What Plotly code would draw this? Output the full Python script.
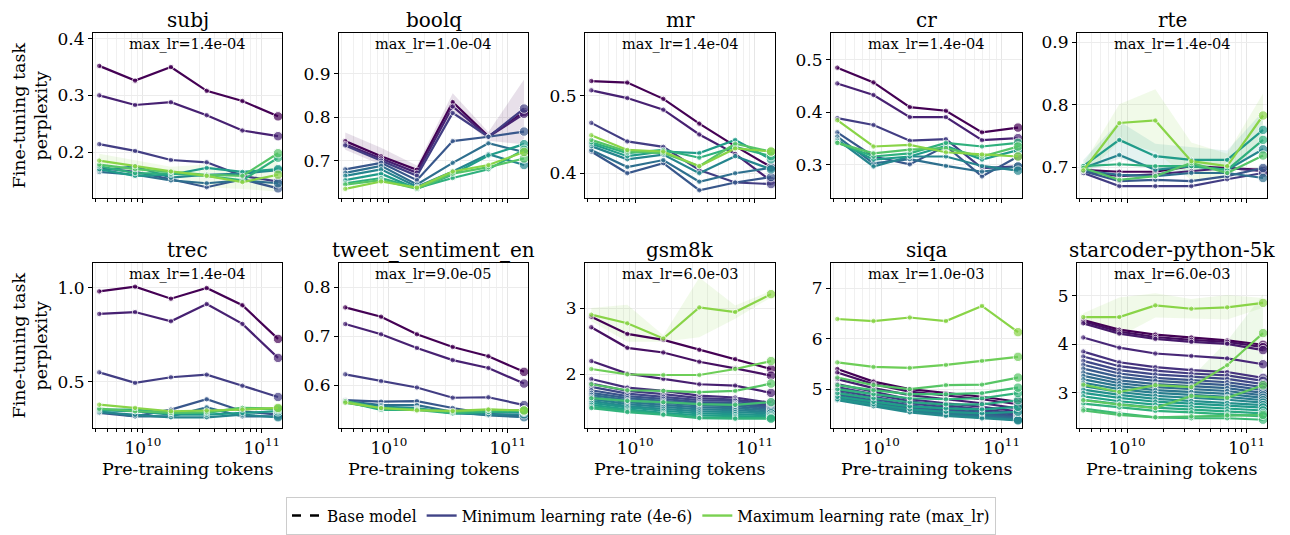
import plotly.graph_objects as go
from plotly.colors import sample_colorscale

# pre-training token counts (x positions)
tokens = [4.29e9, 8.59e9, 1.72e10, 3.44e10, 6.87e10, 1.37e11]

tasks = ["subj", "boolq", "mr", "cr", "rte",
         "trec", "tweet_sentiment_en", "gsm8k", "siqa", "starcoder-python-5k"]
max_lrs = ["1.4e-04", "1.0e-04", "1.4e-04", "1.4e-04", "1.4e-04",
           "1.4e-04", "9.0e-05", "6.0e-03", "1.0e-03", "6.0e-03"]

# one row per learning rate, lowest lr first
subj = [
    [0.352, 0.326, 0.350, 0.308, 0.290, 0.263],
    [0.300, 0.283, 0.288, 0.265, 0.238, 0.228],
    [0.214, 0.202, 0.186, 0.182, 0.158, 0.148],
    [0.172, 0.165, 0.152, 0.138, 0.152, 0.136],
    [0.165, 0.160, 0.150, 0.145, 0.150, 0.145],
    [0.168, 0.175, 0.155, 0.160, 0.162, 0.168],
    [0.170, 0.158, 0.160, 0.172, 0.165, 0.170],
    [0.175, 0.163, 0.162, 0.158, 0.150, 0.190],
    [0.178, 0.170, 0.165, 0.160, 0.158, 0.198],
    [0.185, 0.175, 0.166, 0.158, 0.147, 0.160],
]
boolq = [
    [0.745, 0.710, 0.679, 0.835, 0.756, 0.812],
    [0.738, 0.705, 0.672, 0.825, 0.755, 0.808],
    [0.735, 0.700, 0.665, 0.810, 0.755, 0.820],
    [0.680, 0.695, 0.655, 0.745, 0.755, 0.767],
    [0.672, 0.688, 0.645, 0.695, 0.740, 0.720],
    [0.665, 0.680, 0.640, 0.675, 0.715, 0.690],
    [0.655, 0.670, 0.635, 0.668, 0.712, 0.738],
    [0.648, 0.660, 0.637, 0.660, 0.680, 0.725],
    [0.645, 0.655, 0.635, 0.670, 0.685, 0.705],
    [0.635, 0.652, 0.638, 0.675, 0.690, 0.720],
]
mr = [
    [0.519, 0.517, 0.496, 0.464, 0.435, 0.408],
    [0.507, 0.497, 0.482, 0.450, 0.425, 0.390],
    [0.465, 0.441, 0.434, 0.404, 0.388, 0.386],
    [0.428, 0.400, 0.413, 0.378, 0.388, 0.395],
    [0.430, 0.408, 0.417, 0.389, 0.400, 0.407],
    [0.435, 0.418, 0.424, 0.400, 0.422, 0.405],
    [0.438, 0.422, 0.428, 0.426, 0.443, 0.418],
    [0.440, 0.426, 0.430, 0.420, 0.434, 0.422],
    [0.443, 0.428, 0.426, 0.409, 0.438, 0.428],
    [0.449, 0.430, 0.428, 0.409, 0.432, 0.428],
]
cr = [
    [0.485, 0.457, 0.410, 0.403, 0.362, 0.371],
    [0.455, 0.433, 0.391, 0.391, 0.347, 0.351],
    [0.389, 0.376, 0.346, 0.349, 0.294, 0.297],
    [0.362, 0.316, 0.301, 0.336, 0.278, 0.316],
    [0.354, 0.303, 0.311, 0.298, 0.287, 0.297],
    [0.348, 0.297, 0.316, 0.316, 0.298, 0.289],
    [0.345, 0.310, 0.316, 0.336, 0.310, 0.328],
    [0.342, 0.316, 0.322, 0.342, 0.335, 0.342],
    [0.342, 0.322, 0.329, 0.332, 0.316, 0.335],
    [0.385, 0.335, 0.338, 0.324, 0.320, 0.316],
]
rte = [
    [0.696, 0.693, 0.693, 0.702, 0.699, 0.696],
    [0.694, 0.686, 0.689, 0.694, 0.699, 0.694],
    [0.691, 0.670, 0.670, 0.670, 0.681, 0.691],
    [0.694, 0.678, 0.680, 0.678, 0.686, 0.699],
    [0.695, 0.688, 0.686, 0.691, 0.691, 0.683],
    [0.699, 0.720, 0.696, 0.702, 0.696, 0.729],
    [0.702, 0.744, 0.718, 0.712, 0.712, 0.760],
    [0.702, 0.705, 0.702, 0.702, 0.696, 0.744],
    [0.699, 0.680, 0.686, 0.707, 0.691, 0.719],
    [0.695, 0.771, 0.775, 0.710, 0.702, 0.783],
]
trec = [
    [0.982, 1.007, 0.943, 1.000, 0.908, 0.729],
    [0.862, 0.872, 0.823, 0.915, 0.809, 0.628],
    [0.551, 0.495, 0.525, 0.539, 0.480, 0.420],
    [0.335, 0.317, 0.353, 0.408, 0.344, 0.326],
    [0.344, 0.317, 0.317, 0.365, 0.317, 0.317],
    [0.339, 0.326, 0.312, 0.312, 0.326, 0.312],
    [0.348, 0.344, 0.326, 0.326, 0.335, 0.344],
    [0.353, 0.353, 0.335, 0.335, 0.362, 0.353],
    [0.358, 0.344, 0.335, 0.340, 0.362, 0.358],
    [0.379, 0.362, 0.344, 0.348, 0.353, 0.362],
]
tweet = [
    [0.759, 0.740, 0.704, 0.678, 0.659, 0.627],
    [0.725, 0.704, 0.676, 0.651, 0.635, 0.603],
    [0.622, 0.608, 0.595, 0.574, 0.575, 0.559],
    [0.569, 0.566, 0.567, 0.553, 0.541, 0.537],
    [0.567, 0.559, 0.559, 0.545, 0.538, 0.534],
    [0.566, 0.556, 0.553, 0.542, 0.540, 0.540],
    [0.564, 0.552, 0.551, 0.544, 0.545, 0.545],
    [0.566, 0.549, 0.549, 0.542, 0.545, 0.547],
    [0.567, 0.552, 0.550, 0.545, 0.549, 0.548],
    [0.564, 0.553, 0.548, 0.547, 0.550, 0.548],
]
gsm8k = [
    [2.87, 2.61, 2.52, 2.37, 2.23, 2.08],
    [2.71, 2.40, 2.33, 2.19, 2.09, 1.98],
    [2.20, 2.01, 1.93, 1.85, 1.83, 1.72],
    [1.93, 1.80, 1.75, 1.68, 1.65, 1.57],
    [1.86, 1.75, 1.70, 1.64, 1.62, 1.55],
    [1.81, 1.71, 1.66, 1.61, 1.60, 1.53],
    [1.76, 1.67, 1.63, 1.58, 1.57, 1.51],
    [1.72, 1.64, 1.60, 1.56, 1.55, 1.49],
    [1.69, 1.61, 1.57, 1.53, 1.52, 1.47],
    [1.66, 1.58, 1.54, 1.50, 1.49, 1.45],
    [1.63, 1.55, 1.51, 1.47, 1.46, 1.43],
    [1.60, 1.52, 1.48, 1.44, 1.43, 1.41],
    [1.57, 1.50, 1.45, 1.41, 1.40, 1.38],
    [1.54, 1.47, 1.42, 1.38, 1.37, 1.36],
    [1.51, 1.45, 1.40, 1.35, 1.35, 1.34],
    [1.49, 1.43, 1.39, 1.34, 1.33, 1.33],
    [1.64, 1.60, 1.58, 1.55, 1.54, 1.58],
    [1.85, 1.76, 1.75, 1.73, 1.75, 1.86],
    [2.08, 2.00, 1.99, 1.99, 2.08, 2.20],
    [2.90, 2.77, 2.54, 3.01, 2.94, 3.21],
]
siqa = [
    [5.40, 5.15, 5.00, 4.92, 4.85, 4.75],
    [5.33, 5.10, 4.95, 4.88, 4.80, 4.70],
    [5.20, 5.02, 4.88, 4.80, 4.72, 4.62],
    [5.10, 4.95, 4.80, 4.72, 4.65, 4.56],
    [5.04, 4.90, 4.76, 4.68, 4.60, 4.52],
    [4.98, 4.85, 4.72, 4.64, 4.56, 4.49],
    [4.94, 4.81, 4.68, 4.60, 4.53, 4.46],
    [4.90, 4.77, 4.64, 4.57, 4.50, 4.44],
    [4.87, 4.74, 4.61, 4.54, 4.48, 4.42],
    [4.84, 4.71, 4.58, 4.51, 4.46, 4.40],
    [4.81, 4.68, 4.56, 4.49, 4.44, 4.39],
    [4.78, 4.66, 4.54, 4.47, 4.42, 4.38],
    [4.80, 4.70, 4.60, 4.55, 4.52, 4.55],
    [4.85, 4.75, 4.66, 4.62, 4.60, 4.65],
    [4.92, 4.82, 4.74, 4.70, 4.70, 4.78],
    [5.00, 4.90, 4.82, 4.80, 4.82, 4.92],
    [5.08, 4.98, 4.90, 4.90, 4.92, 5.03],
    [5.23, 5.08, 5.00, 5.08, 5.09, 5.23],
    [5.53, 5.44, 5.42, 5.48, 5.56, 5.64],
    [6.39, 6.35, 6.42, 6.35, 6.65, 6.13],
]
starcoder = [
    [4.50, 4.30, 4.20, 4.14, 4.08, 3.99],
    [4.47, 4.26, 4.15, 4.09, 4.05, 3.94],
    [4.43, 4.22, 4.11, 4.05, 4.01, 3.88],
    [4.14, 3.93, 3.81, 3.76, 3.71, 3.59],
    [3.85, 3.63, 3.53, 3.47, 3.43, 3.31],
    [3.75, 3.55, 3.46, 3.40, 3.36, 3.25],
    [3.66, 3.47, 3.38, 3.33, 3.29, 3.18],
    [3.58, 3.40, 3.31, 3.26, 3.22, 3.12],
    [3.50, 3.33, 3.25, 3.20, 3.16, 3.06],
    [3.42, 3.26, 3.18, 3.14, 3.10, 3.00],
    [3.35, 3.20, 3.12, 3.08, 3.04, 2.95],
    [3.28, 3.14, 3.06, 3.02, 2.98, 2.90],
    [3.21, 3.08, 3.00, 2.96, 2.92, 2.85],
    [3.14, 3.02, 2.94, 2.90, 2.86, 2.80],
    [3.07, 2.96, 2.88, 2.84, 2.80, 2.75],
    [3.00, 2.90, 2.82, 2.78, 2.74, 2.70],
    [2.93, 2.83, 2.76, 2.72, 2.68, 2.64],
    [2.86, 2.77, 2.70, 2.66, 2.62, 2.58],
    [2.78, 2.70, 2.63, 2.60, 2.56, 2.52],
    [2.68, 2.58, 2.50, 2.48, 2.48, 2.45],
    [2.64, 2.55, 2.50, 2.52, 2.54, 2.55],
    [2.85, 2.76, 2.69, 2.94, 2.90, 3.16],
    [3.17, 3.02, 3.16, 3.12, 3.57, 4.23],
    [4.56, 4.56, 4.80, 4.73, 4.76, 4.85],
]

# visible std bands (line index, std per point)
subj_band = (9, [0.012, 0.010, 0.008, 0.020, 0.012, 0.030])
boolq_band = (0, [0.020, 0.020, 0.010, 0.020, 0.010, 0.075])
rte_band = (9, [0.010, 0.030, 0.050, 0.030, 0.020, 0.035])
rte_band2 = (6, [0.010, 0.030, 0.020, 0.020, 0.015, 0.030])
gsm8k_band = (19, [0.10, 0.28, 0.05, 0.45, 0.10, 0.05])
starcoder_band = (23, [0.08, 0.40, 0.25, 0.20, 0.25, 0.10])
starcoder_band2 = (22, [0.05, 0.05, 0.10, 0.20, 0.50, 0.80])

series = [subj, boolq, mr, cr, rte, trec, tweet, gsm8k, siqa, starcoder]
bands = {0: [subj_band], 1: [boolq_band], 4: [rte_band, rte_band2],
         7: [gsm8k_band], 9: [starcoder_band, starcoder_band2]}

yranges = [[0.119, 0.41], [0.614, 0.994], [0.368, 0.581], [0.237, 0.551], [0.651, 0.915],
           [0.255, 1.133], [0.512, 0.85], [1.19, 3.68], [4.23, 7.50], [2.28, 5.67]]
ydticks = [0.1, 0.1, 0.1, 0.1, 0.1, 0.5, 0.1, 1, 1, 1]

# page has an 8px body margin; the figure runs to the bottom of the window
PAD = 8
W, H = 1290 - 2 * PAD, 535 - PAD
xdom = [(93, 282), (339, 528), (585, 775), (831, 1022), (1077, 1267)]
ydom = [(33, 198), (263, 428)]
FONT = "DejaVu Serif"
LEG_FONT = "DejaVu Serif Condensed, DejaVu Serif"


def px(x):
    return (x - PAD) / W


def py(y):
    return 1 - (y - PAD) / H


minor_vals = [k * 10 ** e for e in (9, 10, 11) for k in range(2, 10)]


def rgba(c, a):
    c = c.replace("rgb(", "").replace(")", "")
    return "rgba(%s,%s)" % (c, a)


fig = go.Figure()
annotations = []

for i, task in enumerate(tasks):
    row, col = divmod(i, 5)
    ax = "" if i == 0 else str(i + 1)
    data = series[i]
    n = len(data)
    colors = sample_colorscale("Viridis", [0.82 * k / (n - 1) for k in range(n)])

    for idx, std in bands.get(i, []):
        lo = [v - s for v, s in zip(data[idx], std)]
        hi = [v + s for v, s in zip(data[idx], std)]
        fig.add_trace(go.Scatter(x=tokens, y=lo, mode="lines", line=dict(width=0),
                                 showlegend=False, hoverinfo="skip",
                                 xaxis="x" + ax, yaxis="y" + ax))
        fig.add_trace(go.Scatter(x=tokens, y=hi, mode="lines", line=dict(width=0),
                                 fill="tonexty", fillcolor=rgba(colors[idx], 0.12),
                                 showlegend=False, hoverinfo="skip",
                                 xaxis="x" + ax, yaxis="y" + ax))

    for k, ys in enumerate(data):
        fig.add_trace(go.Scatter(
            x=tokens, y=ys, mode="lines+markers",
            line=dict(color=colors[k], width=2.2),
            marker=dict(color=colors[k], size=[5.5, 5.5, 5.5, 5.5, 5.5, 9.5]),
            showlegend=False, xaxis="x" + ax, yaxis="y" + ax))

    x0, x1 = xdom[col]
    y0, y1 = ydom[row]
    fig.layout["xaxis" + ax] = dict(
        domain=[px(x0), px(x1)], anchor="y" + ax, type="log",
        range=[9.58, 11.17],
        tickvals=[1e10, 1e11], ticktext=["10<sup>10</sup>", "10<sup>11</sup>"],
        showticklabels=(row == 1),
        ticks="outside", ticklen=4, tickcolor="black",
        showline=True, linecolor="black", linewidth=1.2, mirror=True,
        showgrid=True, gridcolor="#e6e6e6", gridwidth=1,
        minor=dict(tickvals=minor_vals, ticks="outside", ticklen=2.5, tickcolor="black",
                   showgrid=True, gridcolor="#f0f0f0", gridwidth=1),
        tickfont=dict(family=FONT, size=17, color="black"),
        zeroline=False, automargin=False,
    )
    fig.layout["yaxis" + ax] = dict(
        domain=[py(y1), py(y0)], anchor="x" + ax,
        range=yranges[i], dtick=ydticks[i], tick0=0,
        tickformat=".1f" if ydticks[i] < 1 else "d",
        ticks="outside", ticklen=4, tickcolor="black",
        showline=True, linecolor="black", linewidth=1.2, mirror=True,
        showgrid=True, gridcolor="#ececec", gridwidth=1,
        tickfont=dict(family=FONT, size=17, color="black"),
        zeroline=False, automargin=False,
    )

    xc = px((x0 + x1) / 2)
    annotations.append(dict(text=task, x=xc, y=py(y0), xref="paper", yref="paper",
                            xanchor="center", yanchor="bottom", yshift=-1,
                            showarrow=False,
                            font=dict(family=FONT, size=20, color="black")))
    annotations.append(dict(text="max_lr=" + max_lrs[i], x=xc, y=py(y0),
                            xref="paper", yref="paper", xanchor="center", yanchor="top",
                            yshift=-1, showarrow=False,
                            font=dict(family=FONT, size=14.5, color="black")))
    if row == 1:
        annotations.append(dict(text="Pre-training tokens", x=xc, y=py(469),
                                xref="paper", yref="paper", xanchor="center",
                                yanchor="middle", showarrow=False,
                                font=dict(family=FONT, size=17.5, color="black")))
    if col == 0:
        annotations.append(dict(text="Fine-tuning task<br>perplexity", x=px(30),
                                y=py((y0 + y1) / 2), xref="paper", yref="paper",
                                xanchor="center", yanchor="middle", textangle=-90,
                                showarrow=False,
                                font=dict(family=FONT, size=17.5, color="black")))

# legend entries
fig.add_trace(go.Scatter(x=[None], y=[None], mode="lines", name="Base model",
                         line=dict(color="black", width=2.4, dash="dash")))
fig.add_trace(go.Scatter(x=[None], y=[None], mode="lines",
                         name="Minimum learning rate (4e-6)",
                         line=dict(color="#414487", width=2.4)))
fig.add_trace(go.Scatter(x=[None], y=[None], mode="lines",
                         name="Maximum learning rate (max_lr)",
                         line=dict(color="#7ad151", width=2.4)))

fig.update_layout(
    width=W, height=H,
    margin=dict(l=0, r=0, t=0, b=0),
    paper_bgcolor="white", plot_bgcolor="white",
    annotations=annotations,
    legend=dict(orientation="h", x=px(641), y=0, xanchor="center",
                yanchor="bottom", bordercolor="#cccccc", borderwidth=1,
                traceorder="normal",
                font=dict(family=LEG_FONT, size=17, color="black"),
                itemwidth=30, tracegroupgap=0),
    font=dict(family=FONT),
)

fig.write_html("out.html")
